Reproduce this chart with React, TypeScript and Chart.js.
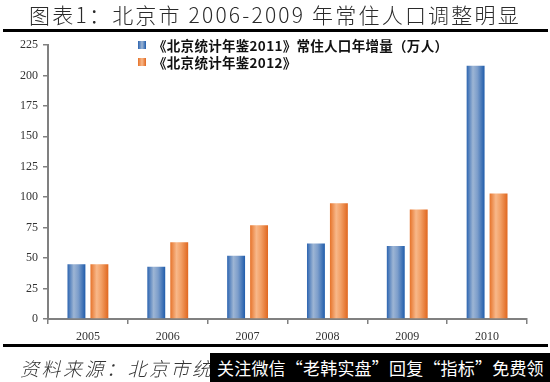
import React, { useEffect, useRef } from "react";
import { Chart, registerables } from "chart.js";

Chart.register(...registerables);

const categories = ["2005", "2006", "2007", "2008", "2009", "2010"];
const yearbook2011 = [45, 43, 52, 62, 60, 208];
const yearbook2012 = [45, 63, 77, 95, 90, 103];
const seriesLabels = [
  "《北京统计年鉴2011》常住人口年增量（万人）",
  "《北京统计年鉴2012》",
];
const yTicks = { min: 0, max: 225, step: 25 };

const CAT_PCT = 0.575;
const BAR_PCT = 0.78;

const blueStops: [number, string][] = [
  [0, "#2c64b0"],
  [0.35, "#9db5d4"],
  [0.6, "#7d9ecb"],
  [1, "#1f5cab"],
];
const orangeStops: [number, string][] = [
  [0, "#e6732a"],
  [0.35, "#f8b88a"],
  [0.6, "#f2a066"],
  [1, "#e0671f"],
];

function gradientFill(stops: [number, string][], fallback: string) {
  return (ctx: any) => {
    const chart = ctx.chart;
    const xs = chart.scales && chart.scales.x;
    if (!xs || ctx.type !== "data" || !xs.width) return fallback;
    const center = xs.getPixelForValue(ctx.dataIndex);
    const catW = xs.width / categories.length;
    const slot = (catW * CAT_PCT) / 2;
    const barCenter = center + (ctx.datasetIndex - 0.5) * slot;
    const half = (slot * BAR_PCT) / 2;
    const g = chart.ctx.createLinearGradient(barCenter - half, 0, barCenter + half, 0);
    stops.forEach(([o, c]) => g.addColorStop(o, c));
    return g;
  };
}

function BarChart() {
  const ref = useRef<HTMLCanvasElement | null>(null);
  useEffect(() => {
    if (!ref.current) return;
    const tickFont = { family: "'Liberation Serif', 'Times New Roman', serif", size: 12 };
    const chart = new Chart(ref.current, {
      type: "bar",
      data: {
        labels: categories,
        datasets: [
          {
            label: seriesLabels[0],
            data: yearbook2011,
            backgroundColor: gradientFill(blueStops, "#4a7cc0"),
            borderWidth: 0,
            categoryPercentage: CAT_PCT,
            barPercentage: BAR_PCT,
          },
          {
            label: seriesLabels[1],
            data: yearbook2012,
            backgroundColor: gradientFill(orangeStops, "#f0934a"),
            borderWidth: 0,
            categoryPercentage: CAT_PCT,
            barPercentage: BAR_PCT,
          },
        ],
      },
      options: {
        responsive: false,
        animation: false,
        layout: { padding: { top: 45, bottom: 38, left: 0, right: 23 } },
        plugins: { legend: { display: false }, tooltip: { enabled: false }, title: { display: false } },
        scales: {
          x: {
            afterFit: (s: any) => {
              s.height = 25;
            },
            border: { color: "#808080", width: 2 },
            grid: { drawOnChartArea: false, drawTicks: true, tickLength: 5, color: "#808080", lineWidth: 1.5, offset: true },
            ticks: { color: "#333", font: tickFont, padding: 6, maxRotation: 0 },
          },
          y: {
            min: yTicks.min,
            max: yTicks.max,
            afterFit: (s: any) => {
              s.width = 48;
            },
            border: { color: "#808080", width: 2 },
            grid: { drawOnChartArea: false, drawTicks: true, tickLength: 5, color: "#808080", lineWidth: 1.5 },
            ticks: { stepSize: yTicks.step, color: "#333", font: tickFont, padding: 5 },
          },
        },
      },
    });
    return () => chart.destroy();
  }, []);
  return <canvas ref={ref} width={550} height={382} style={{ position: "absolute", left: 0, top: 0, width: 550, height: 382 }} />;
}

const cjk = "'Noto Sans CJK SC', 'Noto Sans', sans-serif";

export default function App() {
  return (
    <div style={{ position: "fixed", left: 0, top: 0, width: 550, height: 382, background: "#fff", overflow: "hidden" }}>
      <BarChart />
      <div
        style={{
          position: "absolute", left: 0, top: 0, width: 550, height: 29, textAlign: "center",
          fontFamily: cjk, fontSize: 21, lineHeight: "29px", color: "#2a2a2a", letterSpacing: 2.2, fontWeight: 300,
        }}
      >
        图表1：北京市 2006-2009 年常住人口调整明显
      </div>
      <div style={{ position: "absolute", left: 3, top: 29, width: 545, height: 3, background: "#000" }} />
      <div style={{ position: "absolute", left: 138, top: 36, fontFamily: cjk, fontSize: 13.5, color: "#111", fontWeight: 600 }}>
        {seriesLabels.map((t, i) => (
          <div key={i} style={{ display: "flex", alignItems: "center", height: 17 }}>
            <span
              style={{
                display: "inline-block", width: 8, height: 8, marginRight: 7,
                background: i === 0 ? "linear-gradient(90deg,#2c64b0,#9db5d4,#1f5cab)" : "linear-gradient(90deg,#e6732a,#f8b88a,#e0671f)",
              }}
            />
            <span style={{ letterSpacing: 0.3 }}>{t}</span>
          </div>
        ))}
      </div>
      <div style={{ position: "absolute", left: 3, top: 344, width: 545, height: 3, background: "#000" }} />
      <div
        style={{
          position: "absolute", left: 20, top: 353, fontFamily: cjk, fontSize: 19, fontStyle: "italic",
          color: "#333", letterSpacing: 2.5, lineHeight: "29px", whiteSpace: "nowrap", fontWeight: 300,
        }}
      >
        资料来源：北京市统计局
      </div>
      <div
        style={{
          position: "absolute", left: 210, top: 353, width: 340, height: 29, background: "#000", color: "#fff",
          fontFamily: cjk, fontSize: 17, lineHeight: "29px", whiteSpace: "nowrap", paddingLeft: 7, boxSizing: "border-box",
          letterSpacing: 0.2,
        }}
      >
        关注微信“老韩实盘”回复“指标”免费领
      </div>
    </div>
  );
}
